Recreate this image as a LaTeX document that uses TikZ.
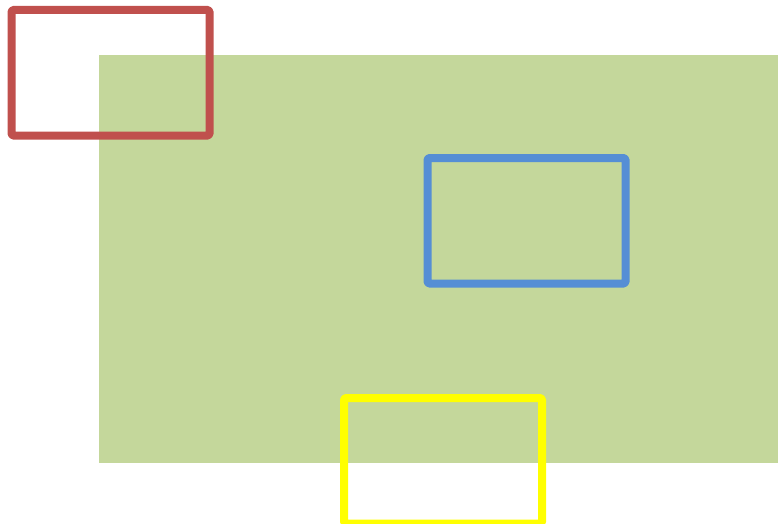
\documentclass[tikz,border=0pt]{standalone}
\definecolor{bggreen}{HTML}{C4D79B}
\definecolor{boxred}{HTML}{C0504D}
\definecolor{boxblue}{HTML}{558ED5}
\definecolor{boxyellow}{HTML}{FFFF00}
\begin{document}
\begin{tikzpicture}[x=1pt,y=-1pt,
  frame/.style={line width=8pt,line join=round,rounded corners=1.5pt}]
\useasboundingbox (0,0) rectangle (778,524);
\begin{scope}
\clip (0,0) rectangle (778,524);
\fill[bggreen] (99,55) rectangle (778,462.5);
\draw[frame,boxred] (11.5,10) rectangle (209.5,135.5);
\draw[frame,boxblue] (427.5,158) rectangle (625.5,283.5);
\draw[frame,boxyellow] (344,398) rectangle (542,523.5);
\end{scope}
\end{tikzpicture}
\end{document}
